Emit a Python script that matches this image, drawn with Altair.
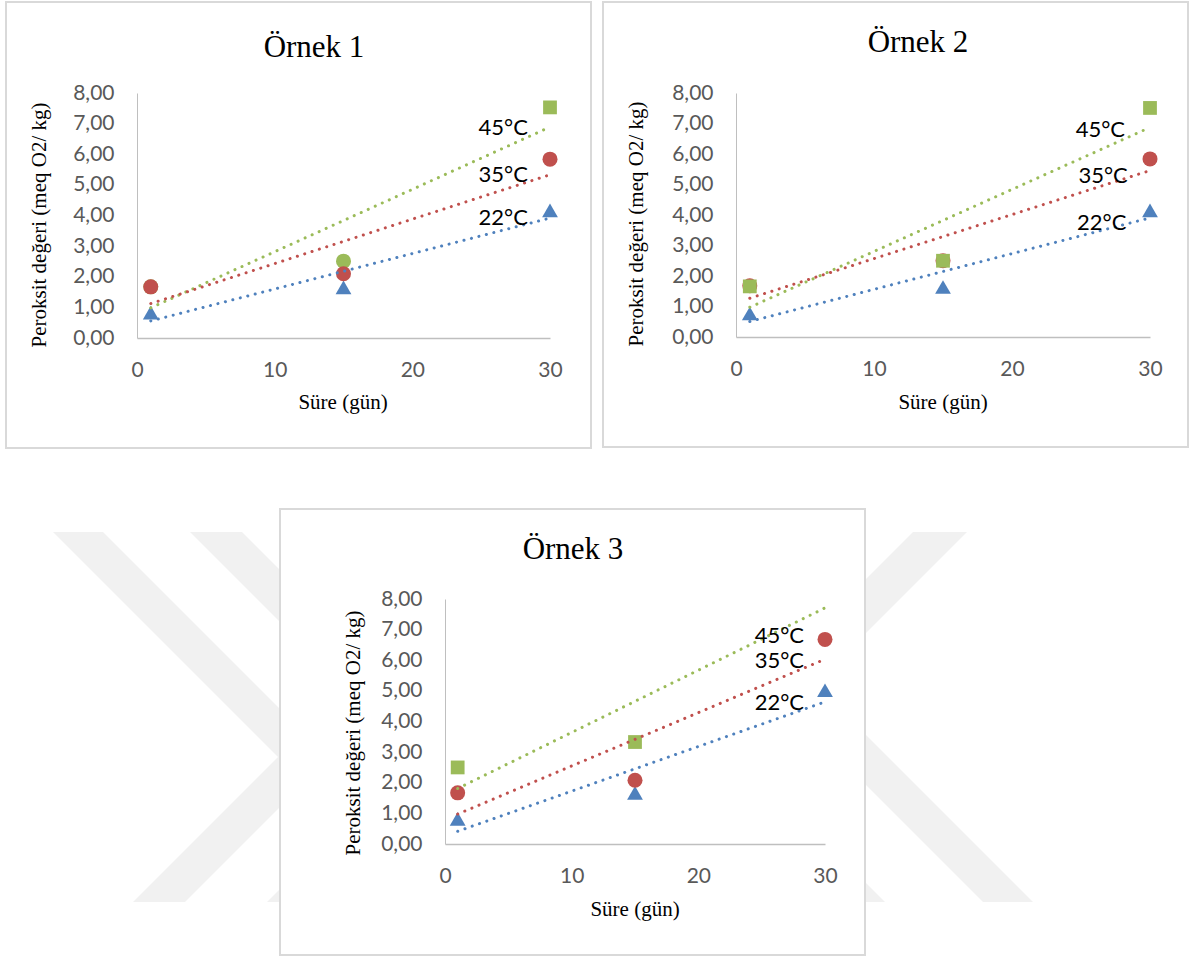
import altair as alt
import pandas as pd

# Storage days and peroxide values (meq O2/kg) per sample and temperature
DAYS = [1, 15, 30]
TEMPS = ["22°C", "35°C", "45°C"]

ORNEK1_22 = [0.83, 1.65, 4.17]
ORNEK1_35 = [1.67, 2.10, 5.84]
ORNEK1_45 = [1.67, 2.51, 7.53]

ORNEK2_22 = [0.77, 1.64, 4.15]
ORNEK2_35 = [1.68, 2.50, 5.84]
ORNEK2_45 = [1.66, 2.50, 7.51]

ORNEK3_22 = [0.82, 1.67, 5.02]
ORNEK3_35 = [1.67, 2.08, 6.68]
ORNEK3_45 = [2.50, 3.33, 8.35]   # day-30 value lies above the 8,00 axis limit

X_TICKS = [0, 10, 20, 30]
Y_TICKS = [0, 1, 2, 3, 4, 5, 6, 7, 8]
Y_MAX = 8

COLORS = {"22°C": "#4f81bd", "35°C": "#c0504d", "45°C": "#9bbb59"}
MARKER = {"22°C": "triangle-up", "35°C": "circle", "45°C": "square"}
MARKER_SIZE = {"triangle-up": 250, "circle": 225, "square": 190}

Y_TITLE = "Peroksit değeri (meq O2/ kg)"
X_TITLE = "Süre (gün)"

TICK_FONT = "Lato"
SERIF = "Liberation Serif"

color_scale = alt.Scale(domain=TEMPS, range=[COLORS[t] for t in TEMPS])


def panel(title, series, label_pos, draw_order, circle_days, geo):
    rows = []
    for temp in draw_order:
        for d, v in zip(DAYS, series[temp]):
            shape = MARKER[temp]
            if temp == "45°C" and d in circle_days:
                shape = "circle"
            rows.append({"gun": d, "deger": v, "sicaklik": temp, "isaret": shape})
    df = pd.DataFrame(rows)

    x = alt.X("gun:Q", scale=alt.Scale(domain=[0, 30], nice=False, zero=False),
              axis=alt.Axis(values=X_TICKS, orient="bottom", title=None, ticks=False, grid=False,
                            labelFont=TICK_FONT, labelFontSize=21, labelColor="#595959",
                            labelPadding=21, labelFlush=False, domainColor="#bfbfbf",
                            domainWidth=1.5, zindex=1))
    y = alt.Y("deger:Q", scale=alt.Scale(domain=[0, Y_MAX], nice=False, zero=False),
              axis=alt.Axis(values=Y_TICKS, orient="left", title=None, ticks=False, grid=False,
                            labelExpr="replace(format(datum.value, '.2f'), '.', ',')",
                            labelFont=TICK_FONT, labelFontSize=21, labelColor="#595959",
                            labelPadding=23, labelFlush=False, labelOverlap=False,
                            domainColor="#bfbfbf", domainWidth=1, zindex=1))
    color = alt.Color("sicaklik:N", scale=color_scale, legend=None)

    one = pd.DataFrame({"t": [0]})
    frame = alt.Chart(one).mark_rect(fill="white", stroke="#d9d9d9", strokeWidth=2).encode(
        x=alt.value(geo["frame"][0]), x2=alt.value(geo["frame"][1]),
        y=alt.value(geo["frame"][2]), y2=alt.value(geo["frame"][3]))

    head = alt.Chart(pd.DataFrame({"t": [title]})).mark_text(
        font=SERIF, fontSize=31, align="center", baseline="alphabetic", color="black"
    ).encode(x=alt.value(geo["title"][0]), y=alt.value(geo["title"][1]), text="t:N")

    ytitle = alt.Chart(pd.DataFrame({"t": [Y_TITLE]})).mark_text(
        font=SERIF, fontSize=21, align="center", baseline="middle", angle=270, color="black"
    ).encode(x=alt.value(geo["ytitle"][0]), y=alt.value(geo["ytitle"][1]), text="t:N")

    xtitle = alt.Chart(pd.DataFrame({"t": [X_TITLE]})).mark_text(
        font=SERIF, fontSize=21, align="center", baseline="middle", color="black"
    ).encode(x=alt.value(geo["xtitle"][0]), y=alt.value(geo["xtitle"][1]), text="t:N")

    # markers above the axis maximum are not drawn; the trendline still uses them
    point_layers = []
    for shape in ["triangle-up", "circle", "square"]:
        point_layers.append(
            alt.Chart(df)
            .transform_filter((alt.datum.isaret == shape) & (alt.datum.deger <= Y_MAX))
            .mark_point(shape=shape, size=MARKER_SIZE[shape], filled=True, opacity=1,
                        strokeWidth=0)
            .encode(x=x, y=y, color=color)
        )

    trend = alt.Chart(df).transform_regression(
        "gun", "deger", groupby=["sicaklik"]
    ).mark_line(strokeWidth=3, strokeDash=[0.1, 7.6], strokeCap="round").encode(
        x=x, y=y, color=color, detail="sicaklik:N")

    lab_df = pd.DataFrame({"etiket": list(label_pos.keys()),
                           "gun": [p[0] for p in label_pos.values()],
                           "deger": [p[1] for p in label_pos.values()]})
    labels = alt.Chart(lab_df).mark_text(
        font=TICK_FONT, fontSize=22, color="black", align="center", baseline="middle"
    ).encode(x=x, y=y, text="etiket:N")

    return alt.layer(frame, *point_layers, trend, labels, head, ytitle, xtitle).properties(
        width=geo["w"], height=geo["h"])


geo1 = dict(w=413, h=245, frame=(-131, 454, -91, 355), title=(177, -36),
            ytitle=(-97, 132), xtitle=(206, 310))
geo2 = dict(w=414, h=244, frame=(-133, 452, -91, 354), title=(182, -41),
            ytitle=(-99, 131), xtitle=(207, 310))
geo3 = dict(w=380, h=245, frame=(-165, 420, -90, 356), title=(128, -40),
            ytitle=(-91, 134), xtitle=(190, 311))

p1 = panel("Örnek 1", {"22°C": ORNEK1_22, "35°C": ORNEK1_35, "45°C": ORNEK1_45},
           {"45°C": (26.6, 6.86), "35°C": (26.6, 5.33), "22°C": (26.6, 3.93)},
           ["45°C", "22°C", "35°C"], [1, 15], geo1)
p2 = panel("Örnek 2", {"22°C": ORNEK2_22, "35°C": ORNEK2_35, "45°C": ORNEK2_45},
           {"45°C": (26.4, 6.79), "35°C": (26.6, 5.28), "22°C": (26.5, 3.74)},
           ["22°C", "35°C", "45°C"], [], geo2)
p3_inner = panel("Örnek 3", {"22°C": ORNEK3_22, "35°C": ORNEK3_35, "45°C": ORNEK3_45},
                 {"45°C": (26.4, 6.80), "35°C": (26.4, 5.99), "22°C": (26.4, 4.60)},
                 ["22°C", "35°C", "45°C"], [], geo3)

# Faint page watermark behind the lower panel: diagonal bands, page pixel coordinates
BAND_TOP_Y = 532
BAND_BOTTOM_Y = 902
BAND_TOP = [(53, 103), (503, 555), (190, 242), (637, 689), (913, 967), (613, 663), (465, 515)]
BAND_BOTTOM = [(423, 473), (133, 185), (560, 612), (267, 319), (543, 597), (983, 1033), (835, 885)]

wm_rows = []
for i, (tp, bt) in enumerate(zip(BAND_TOP, BAND_BOTTOM)):
    wm_rows.append({"bant": i, "py": BAND_TOP_Y, "xl": tp[0], "xr": tp[1]})
    wm_rows.append({"bant": i, "py": BAND_BOTTOM_Y, "xl": bt[0], "xr": bt[1]})
wm = pd.DataFrame(wm_rows)

ORIGIN3 = (445, 599)
watermark = alt.Chart(wm).mark_area(orient="horizontal", color="#f1f1f1", clip=False).encode(
    y=alt.Y("py:Q", scale=alt.Scale(domain=[0, 959], range=[-ORIGIN3[1], 959 - ORIGIN3[1]],
                                    nice=False, zero=False), axis=None),
    x=alt.X("xl:Q", scale=alt.Scale(domain=[0, 1193], range=[-ORIGIN3[0], 1193 - ORIGIN3[0]],
                                    nice=False, zero=False), axis=None),
    x2="xr:Q",
    detail="bant:N",
)

p3 = alt.layer(watermark, p3_inner).resolve_scale(x="independent", y="independent").properties(
    width=geo3["w"], height=geo3["h"])

spacer = alt.Chart(pd.DataFrame({"t": [0]})).mark_point(opacity=0).encode(
    x=alt.value(0), y=alt.value(0)).properties(width=298, height=10)

top = alt.hconcat(p1, p2, spacing=186, bounds="flush")
bottom = alt.hconcat(spacer, p3, spacing=10, bounds="flush")

# with flush bounds the nested top row counts as zero height, so the gap spans it
chart = alt.vconcat(top, bottom, spacing=506, bounds="flush").properties(
    padding={"left": 5, "top": 1, "right": 0, "bottom": 0},
    background="white",
).configure_view(stroke=None)

chart.save("out.html", embed_options={"renderer": "svg", "actions": False})
